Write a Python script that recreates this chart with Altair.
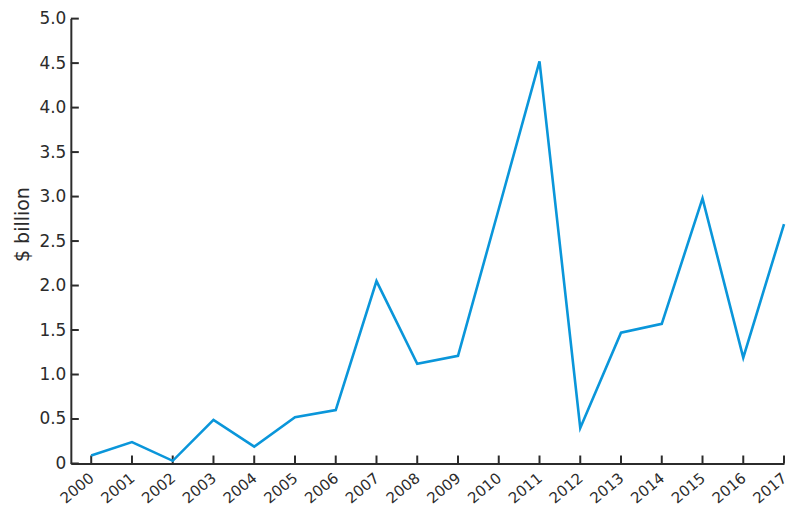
import altair as alt
import pandas as pd

years = list(range(2000, 2018))
values = [0.09, 0.24, 0.03, 0.49, 0.19, 0.52, 0.60, 2.05, 1.12, 1.21,
          2.86, 4.52, 0.40, 1.47, 1.57, 2.98, 1.19, 2.69]
y_ticks = [0, 0.5, 1.0, 1.5, 2.0, 2.5, 3.0, 3.5, 4.0, 4.5, 5.0]

df = pd.DataFrame({"year": years, "value": values})
xt = pd.DataFrame({"year": years})
yt = pd.DataFrame({"v": y_ticks})

W, H = 715, 446
FONT = "DejaVu Sans"
INK = "#2b2b2b"

xscale = alt.Scale(domain=[1999.5, 2017], nice=False, zero=False)
yscale = alt.Scale(domain=[0, 5], nice=False)

line = alt.Chart(df).mark_line(color="#0A96DA", strokeWidth=2.6).encode(
    x=alt.X("year:Q", scale=xscale,
            axis=alt.Axis(values=years, format="d", labelAngle=-40, labelAlign="right",
                          labelBaseline="middle", labelPadding=12, tickSize=0,
                          labelFontSize=15, labelColor=INK, domainColor=INK,
                          domainWidth=2, grid=False, title=None, labelFont=FONT,
                          labelOverlap=False, labelFlush=False)),
    y=alt.Y("value:Q", scale=yscale,
            axis=alt.Axis(values=y_ticks, tickSize=0, labelPadding=5,
                          labelExpr="datum.value == 0 ? '0' : format(datum.value, '.1f')",
                          labelFontSize=17, labelColor=INK, domainColor=INK,
                          domainWidth=2, grid=False, title="$ billion",
                          titleFontSize=19, titleFont=FONT, titleFontWeight="normal",
                          titleColor=INK, titlePadding=6, titleY=206,
                          labelFont=FONT, labelFlush=False)),
)

xticks = alt.Chart(xt).mark_rule(color=INK, strokeWidth=2).encode(
    x=alt.X("year:Q", scale=xscale),
    y=alt.value(H),
    y2=alt.value(H - 8),
)
yticks = alt.Chart(yt).mark_rule(color=INK, strokeWidth=2).encode(
    y=alt.Y("v:Q", scale=yscale),
    x=alt.value(0),
    x2=alt.value(8),
)

chart = alt.layer(xticks, yticks, line).properties(
    width=W, height=H,
    autosize=alt.AutoSizeParams(type="none"),
    padding={"left": 63, "top": 10, "right": 8, "bottom": 50},
).configure_view(stroke=None)

chart.save("out.html", embed_options={"renderer": "svg", "actions": False})
